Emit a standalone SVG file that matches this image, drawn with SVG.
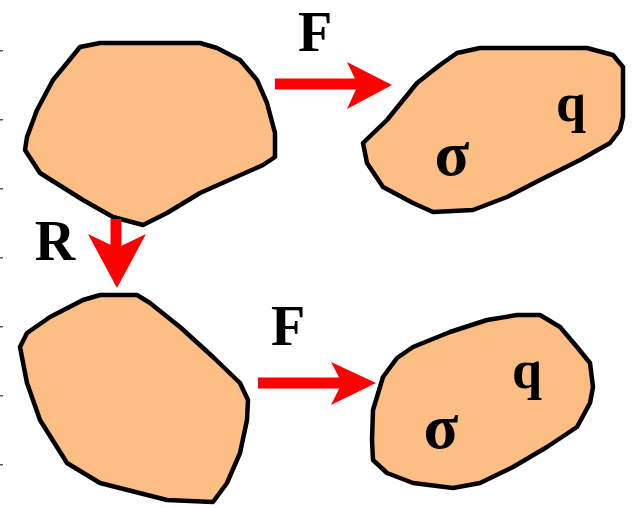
<svg xmlns="http://www.w3.org/2000/svg" width="637" height="508" viewBox="0 0 637 508">
<style>
.blob{fill:#FDBE86;stroke:#000;stroke-width:4.5;stroke-linejoin:round}
.lbl{font-family:"Liberation Serif","Times New Roman",serif;font-weight:bold;fill:#000}
.shaft{stroke:#FF0000;stroke-width:11;fill:none}
.head{fill:#FF0000}
.tick{fill:#555}
</style>
<rect width="637" height="508" fill="#fff"/>
<g id="ticks">
<rect class="tick" x="0" y="50" width="3" height="1.5"/>
<rect class="tick" x="0" y="119" width="3" height="1.5"/>
<rect class="tick" x="0" y="188" width="3" height="1.5"/>
<rect class="tick" x="0" y="257" width="3" height="1.5"/>
<rect class="tick" x="0" y="326" width="3" height="1.5"/>
<rect class="tick" x="0" y="395" width="3" height="1.5"/>
<rect class="tick" x="0" y="464" width="3" height="1.5"/>
</g>
<g id="blob1">
<polygon class="blob" points="80,47 100,43 200,43 217,48 240,60 257,80 267,103 275,133 275,157 263,165 200,193 167,213 143,225 113,217 83,200 40,173 25,150 27,137 37,110 53,80 67,63"/>
</g>
<g id="blob2">
<polygon class="blob" points="457,53 480,48 587,48 613,55 623,67 623,117 620,130 610,143 580,160 540,180 507,197 473,210 433,212 413,203 383,187 367,163 363,143 387,120 417,83 440,65"/>
<text class="lbl" x="452" y="175" font-size="64" text-anchor="middle">σ</text>
<text class="lbl" x="571" y="121" font-size="54" text-anchor="middle">q</text>
</g>
<g id="blob3">
<polygon class="blob" points="100,295 137,295 150,303 180,327 213,357 240,383 248,400 247,420 240,453 227,483 213,502 167,500 100,483 67,463 40,420 27,383 20,347 27,333 50,317 83,300"/>
</g>
<g id="blob4">
<polygon class="blob" points="517,315 540,315 560,327 577,347 590,363 593,387 590,403 577,427 547,447 513,467 480,483 453,488 413,483 387,473 373,460 372,440 373,410 383,377 397,358 413,347 450,332 487,320"/>
<text class="lbl" x="441" y="448" font-size="64" text-anchor="middle">σ</text>
<text class="lbl" x="527" y="388" font-size="54" text-anchor="middle">q</text>
</g>
<g id="connectors">
<line class="shaft" x1="275" y1="84" x2="360" y2="84"/>
<polygon class="head" points="347,62 392,85 347,109 358,85"/>
<line class="shaft" x1="116" y1="219" x2="116" y2="248"/>
<polygon class="head" points="88,234 117,288 146,234 117,248"/>
<line class="shaft" x1="258" y1="383" x2="342" y2="383"/>
<polygon class="head" points="331,362 376,383 331,405 342,383"/>
</g>
<g id="labels">
<text class="lbl" x="315" y="51" font-size="56" text-anchor="middle">F</text>
<text class="lbl" x="55" y="260" font-size="56" text-anchor="middle">R</text>
<text class="lbl" x="288" y="345" font-size="56" text-anchor="middle">F</text>
</g>
</svg>
